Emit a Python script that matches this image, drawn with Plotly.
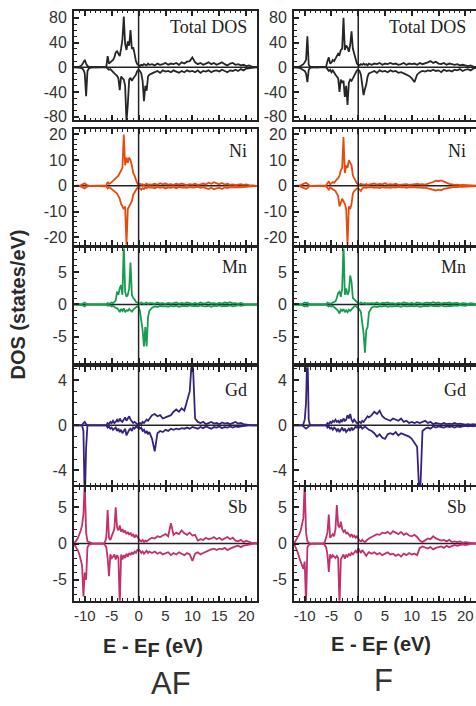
import plotly.graph_objects as go

# ---------------- data (energy grid in eV, DOS in states/eV) ----------------
E = [-12, -11.75, -11.5, -11.25, -11, -10.75, -10.5, -10.25,
     -10, -9.75, -9.5, -9.25, -9, -8.75, -8.5, -8.25,
     -8, -7.75, -7.5, -7.25, -7, -6.75, -6.5, -6.25,
     -6, -5.75, -5.5, -5.25, -5, -4.75, -4.5, -4.25,
     -4, -3.75, -3.5, -3.25, -3, -2.75, -2.5, -2.25,
     -2, -1.75, -1.5, -1.25, -1, -0.75, -0.5, -0.25,
     0, 0.25, 0.5, 0.75, 1, 1.25, 1.5, 1.75, 2,
     2.5, 3, 3.5, 4, 4.5, 5, 5.5, 6,
     6.5, 7, 7.5, 8, 8.5, 9, 9.5, 10,
     10.5, 11, 11.5, 12, 12.5, 13, 13.5, 14,
     14.5, 15, 15.5, 16, 16.5, 17, 17.5, 18,
     18.5, 19, 19.5, 20, 20.5, 21, 21.5, 22]

# ---- AF ----
tot_af_up = [0, 0, 0, 0.5, 1, 2, 4, 8,
             12, 6, 2, 1, 0.5, 0, 0, 0,
             0, 0, 0, 0, 0, 0, 0, 0,
             0.5, 18, 6, 8, 10, 12, 16, 24,
             26, 22, 18, 30, 45, 82, 38, 28,
             42, 35, 60, 30, 32, 22, 10, 5,
             3, 2, 4, 3, 5, 4, 3, 6, 4,
             5, 3, 6, 4, 5, 7, 4, 6,
             5, 7, 4, 8, 6, 9, 10, 16,
             8, 5, 7, 4, 6, 8, 5, 7,
             4, 6, 8, 5, 3, 6, 7, 4,
             5, 3, 4, 2, 3, 1, 0.5, 0]
tot_af_dn = [0, 0, 0, 0, -0.5, -1, -2, -4,
             -10, -47, -6, -2, -1, 0, 0, 0,
             0, 0, 0, 0, 0, 0, 0, 0,
             0, -2, -4, -3, -6, -8, -10, -12,
             -14, -18, -37, -15, -18, -20, -30, -88,
             -60, -20, -17, -22, -18, -15, -12, -6,
             -4, -6, -10, -22, -55, -30, -38, -15, -12,
             -10, -8, -6, -9, -5, -7, -6, -8,
             -5, -7, -9, -6, -8, -5, -7, -6,
             -8, -5, -9, -6, -7, -5, -8, -6,
             -5, -7, -4, -6, -8, -5, -6, -4,
             -6, -3, -5, -2, -1.5, -0.5, 0, 0]
ni_af_up = [0, 0, 0, 0, 0, 0.2, 0.5, 0.8,
            1, 0.5, 0.2, 0, 0, 0, 0, 0,
            0, 0, 0, 0, 0, 0, 0, 0,
            0.2, 1.5, 0.8, 1, 1.5, 1.8, 2.5, 3,
            3.5, 4, 5, 6, 7, 20, 8, 11,
            9, 11, 10, 8, 5, 4, 2.5, 1,
            0.5, 0.8, 0.4, 0.6, 0.3, 0.5, 0.8, 0.4, 0.6,
            0.5, 0.8, 0.4, 1, 0.6, 0.9, 0.5, 0.7,
            0.4, 0.8, 0.5, 0.9, 0.6, 0.3, 0.7, 0.5,
            0.8, 0.4, 0.6, 0.9, 0.5, 1.2, 0.8, 1.4,
            1, 0.6, 1.1, 0.5, 0.8, 0.4, 0.6, 0.3,
            0.5, 0.7, 0.4, 0.6, 0.3, 0.2, 0.1, 0]
ni_af_dn = [0, 0, 0, 0, 0, -0.2, -0.5, -0.8,
            -1, -0.5, -0.2, 0, 0, 0, 0, 0,
            0, 0, 0, 0, 0, 0, 0, 0,
            -0.2, -1, -0.5, -0.8, -1.2, -1.5, -2, -2.5,
            -3, -4, -5, -7, -8, -9, -8, -23,
            -9, -8, -7, -6, -3.5, -2.5, -1.5, -0.8,
            -0.5, -1, -1.5, -0.8, -1.2, -0.6, -0.9, -0.5, -0.7,
            -0.6, -0.9, -0.4, -0.8, -0.5, -1, -0.6, -0.8,
            -0.5, -0.9, -0.4, -0.7, -0.6, -0.8, -0.5, -0.7,
            -0.6, -0.4, -0.8, -0.5, -0.9, -1.2, -0.7, -1.3,
            -1, -0.7, -1.2, -0.6, -0.9, -0.5, -0.6, -0.4,
            -0.5, -0.6, -0.4, -0.5, -0.3, -0.2, -0.1, 0]
mn_af_up = [0, 0, 0, 0, 0, 0, 0.1, 0.2,
            0.3, 0.1, 0, 0, 0, 0, 0, 0,
            0, 0, 0, 0, 0, 0, 0, 0,
            0, 0.2, 0.1, 0.2, 0.3, 0.2, 0.4, 0.6,
            2, 1.5, 2.5, 3, 1.5, 9.5, 2, 1.2,
            1.5, 2.5, 6.5, 1.5, 1, 0.8, 0.4, 0.3,
            0.2, 0.1, 0.3, 0.2, 0.1, 0.2, 0.3, 0.1, 0.2,
            0.2, 0.1, 0.3, 0.15, 0.2, 0.1, 0.25, 0.15,
            0.2, 0.3, 0.1, 0.25, 0.15, 0.3, 0.2, 0.1,
            0.25, 0.1, 0.3, 0.15, 0.2, 0.35, 0.15, 0.2,
            0.1, 0.25, 0.15, 0.3, 0.2, 0.35, 0.15, 0.2,
            0.1, 0.25, 0.1, 0.05, 0.05, 0, 0, 0]
mn_af_dn = [0, 0, 0, 0, 0, 0, -0.1, -0.2,
            -0.3, -0.1, 0, 0, 0, 0, 0, 0,
            0, 0, 0, 0, 0, 0, 0, 0,
            0, -0.2, -0.1, -0.2, -0.3, -0.2, -0.4, -0.5,
            -0.6, -0.8, -1.2, -0.7, -1, -0.6, -1.2, -0.9,
            -1, -0.7, -0.9, -1.1, -0.8, -0.6, -0.4, -0.3,
            -0.4, -1, -2.5, -4, -6.5, -3.5, -6.5, -2, -1,
            -0.5, -0.3, -0.4, -0.2, -0.3, -0.25, -0.35, -0.2,
            -0.3, -0.2, -0.35, -0.25, -0.2, -0.3, -0.15, -0.25,
            -0.2, -0.3, -0.15, -0.25, -0.3, -0.2, -0.35, -0.2,
            -0.25, -0.15, -0.3, -0.2, -0.25, -0.15, -0.3, -0.2,
            -0.1, -0.2, -0.1, -0.05, -0.05, 0, 0, 0]
gd_af_up = [0, 0, 0, 0, 0, 0, 0, 0.2,
            0.3, 0.1, 0, 0, 0, 0, 0, 0,
            0, 0, 0, 0, 0, 0, 0, 0,
            0, 0.2, 0.1, 0.3, 0.2, 0.4, 0.2, 0.3,
            0.5, 0.3, 0.6, 0.4, 0.3, 0.5, 0.7, 0.4,
            0.6, 0.8, 0.5, 0.3, 0.2, 0.3, 0.2, 0.1,
            0.1, 0.2, 0.1, 0.3, 0.2, 0.4, 0.5, 0.4, 0.6,
            0.9, 1.0, 0.8, 0.9, 0.6, 0.7, 0.8, 0.9,
            1.2, 1.4, 1.2, 1.5, 1.3, 2.2, 3.0, 6.5,
            0.6, 0.3, 0.2, 0.3, 0.1, 0.2, 0.3, 0.15,
            0.2, 0.1, 0.25, 0.15, 0.2, 0.1, 0.2, 0.3,
            0.15, 0.2, 0.1, 0.05, 0, 0, 0, 0]
gd_af_dn = [0, 0, 0, 0, 0, 0, 0, -0.5,
            -7, -2, 0, 0, 0, 0, 0, 0,
            0, 0, 0, 0, 0, 0, 0, 0,
            0, -0.2, -0.1, -0.3, -0.2, -0.4, -0.3, -0.2,
            -0.5, -0.3, -0.6, -0.4, -0.7, -0.5, -0.3, -0.9,
            -0.6, -0.4, -0.3, -0.5, -0.2, -0.3, -0.1, -0.2,
            -0.1, -0.3, -0.2, -0.5, -0.4, -0.7, -0.5, -0.8, -0.6,
            -1.2, -2.3, -0.7, -0.5, -0.6, -0.4, -0.5, -0.3,
            -0.4, -0.3, -0.35, -0.25, -0.3, -0.2, -0.3, -0.15,
            -0.2, -0.3, -0.15, -0.25, -0.1, -0.2, -0.3, -0.15,
            -0.2, -0.1, -0.25, -0.15, -0.2, -0.1, -0.2, -0.1,
            -0.15, -0.1, -0.05, 0, 0, 0, 0, 0]
sb_af_up = [0, 0.2, 0.5, 0.8, 1.2, 1.8, 2.5, 4,
            8.5, 1.5, 0.3, 0.2, 0.1, 0, 0, 0,
            0, 0, 0, 0, 0, 0, 0, 0.2,
            0.8, 4.6, 0.8, 0.5, 1.2, 1.5, 2, 5,
            2.2, 1.8, 2.5, 1.6, 2, 1.5, 1.8, 1.3,
            1.6, 1.2, 1.5, 1, 1.3, 0.8, 1.2, 0.9,
            0.6, 0.4, 0.3, 0.5, 0.2, 0.4, 0.3, 0.5, 0.6,
            0.8, 0.7, 1.0, 0.9, 1.1, 1.3, 1.0, 2.8,
            1.2, 1.5, 1.3, 1.8, 1.4, 1.2, 1.5, 1.1,
            1.2, 0.4, 0.6, 0.5, 0.8, 0.6, 0.7, 0.9,
            0.6, 0.8, 0.5, 0.7, 0.9, 0.6, 0.8, 0.4,
            0.3, 0.5, 0.2, 0.4, 0.2, 0.1, 0.1, 0]
sb_af_dn = [0, -0.3, -0.6, -1.0, -1.5, -2.2, -3, -7.3,
            -4, -5, -0.5, -0.2, -0.1, 0, 0, 0,
            0, 0, 0, 0, 0, 0, 0, -0.2,
            -0.5, -2, -4.5, -1.5, -2, -1.8, -1.5, -2.2,
            -1.6, -2, -8.5, -1.5, -2.2, -1.6, -2, -1.4,
            -1.8, -1.3, -1.6, -1.2, -1.5, -1.1, -1.3, -0.9,
            -0.8, -1, -1.3, -1.1, -1.4, -1.2, -1, -1.3, -1.1,
            -1.3, -1.1, -1.4, -1.2, -1.5, -1.3, -1.2, -1.6,
            -1.3, -1.5, -1.2, -1.4, -1.6, -1.3, -1.5, -2.4,
            -1.4, -1.2, -1.5, -1.3, -1.1, -0.9, -0.8, -0.7,
            -0.9, -0.7, -0.8, -0.6, -0.9, -0.7, -0.5, -0.4,
            -0.3, -0.5, -0.3, -0.2, -0.1, -0.1, 0, 0]

# ---- F ----
tot_f_up = [0, 0, 0, 0.5, 1, 2, 3, 5,
            8, 12, 50, 4, 1, 0.5, 0, 0,
            0, 0, 0, 0, 0, 0, 0, 0,
            1, 10, 16, 6, 8, 12, 10, 14,
            18, 22, 20, 28, 30, 80, 28, 35,
            32, 25, 36, 58, 30, 22, 12, 6,
            4, 3, 5, 4, 6, 4, 5, 3, 6,
            4, 6, 5, 7, 4, 6, 5, 7,
            5, 6, 4, 5, 7, 4, 6, 5,
            6, 4, 7, 5, 6, 8, 10, 7,
            9, 6, 5, 7, 4, 6, 5, 4,
            5, 3, 4, 3, 2, 3, 1, 0.5]
tot_f_dn = [0, 0, 0, -0.5, -1, -2, -3, -4,
            -6, -10, -24, -4, -1, -0.5, 0, 0,
            0, 0, 0, 0, 0, 0, 0, 0,
            0, -3, -6, -4, -8, -5, -10, -12,
            -15, -18, -40, -20, -25, -22, -48, -30,
            -61, -25, -20, -22, -18, -14, -10, -5,
            -4, -6, -12, -30, -45, -35, -28, -15, -10,
            -8, -6, -9, -5, -7, -6, -8, -5,
            -7, -6, -9, -8, -10, -12, -14, -18,
            -24, -12, -8, -6, -7, -5, -6, -4,
            -6, -5, -8, -4, -6, -5, -7, -4,
            -5, -3, -6, -4, -3, -5, -2, -1]
ni_f_up = [0, 0, 0, 0, 0.2, 0.3, 0.5, 0.8,
           1, 1.2, 0.8, 0.3, 0, 0, 0, 0,
           0, 0, 0, 0, 0, 0, 0, 0,
           0.2, 1, 1.8, 0.6, 1, 1.5, 1.2, 2,
           2.5, 3, 4, 6, 7, 19, 5, 8,
           7, 10, 9, 8, 4, 3, 1.5, 1,
           0.6, 0.4, 0.8, 0.5, 0.6, 0.4, 0.7, 0.3, 0.5,
           0.6, 0.9, 0.5, 0.8, 0.6, 1, 0.5, 0.7,
           0.5, 0.8, 0.4, 0.6, 0.5, 0.7, 0.4, 0.6,
           0.5, 0.8, 0.6, 0.7, 0.5, 0.8, 1.0, 1.5,
           2, 1.8, 2.1, 1.6, 1.2, 0.8, 0.6, 0.4,
           0.5, 0.3, 0.4, 0.3, 0.2, 0.3, 0.2, 0.1]
ni_f_dn = [0, 0, 0, 0, -0.2, -0.3, -0.5, -0.8,
           -1, -1.2, -0.8, -0.3, 0, 0, 0, 0,
           0, 0, 0, 0, 0, 0, 0, 0,
           -0.2, -0.8, -1.5, -0.6, -1, -1.2, -1.5, -2,
           -3, -4, -8, -6, -5, -6, -7, -9,
           -23, -8, -9, -7, -3, -2, -1.5, -1,
           -1, -1.5, -2, -1, -0.8, -0.5, -0.8, -0.5, -0.6,
           -0.5, -0.8, -0.6, -0.9, -0.5, -0.7, -0.6, -0.8,
           -0.5, -0.7, -0.4, -0.6, -0.5, -0.8, -0.5, -0.6,
           -0.5, -0.7, -0.6, -0.8, -0.7, -1, -1.2, -1.5,
           -1.8, -1.5, -1.7, -1.2, -1, -0.7, -0.5, -0.4,
           -0.5, -0.3, -0.4, -0.3, -0.2, -0.3, -0.2, -0.1]
mn_f_up = [0, 0, 0, 0, 0, 0, 0.1, 0.2,
           0.3, 0.2, 0.3, 0.1, 0, 0, 0, 0,
           0, 0, 0, 0, 0, 0, 0, 0,
           0, 0.3, 0.2, 0.1, 0.2, 0.3, 0.4, 0.5,
           1, 1.8, 2, 1.2, 2.5, 9.5, 1.5, 2.5,
           1.5, 2, 4.5, 3.5, 1, 0.8, 0.5, 0.3,
           0.2, 0.1, 0.3, 0.2, 0.15, 0.25, 0.1, 0.2, 0.15,
           0.2, 0.15, 0.3, 0.1, 0.25, 0.2, 0.3, 0.15,
           0.2, 0.1, 0.25, 0.15, 0.3, 0.2, 0.15, 0.25,
           0.1, 0.3, 0.2, 0.15, 0.25, 0.3, 0.2, 0.35,
           0.2, 0.3, 0.15, 0.25, 0.2, 0.3, 0.15, 0.2,
           0.25, 0.1, 0.2, 0.15, 0.1, 0.2, 0.1, 0.05]
mn_f_dn = [0, 0, 0, 0, 0, 0, -0.1, -0.2,
           -0.3, -0.2, -0.3, -0.1, 0, 0, 0, 0,
           0, 0, 0, 0, 0, 0, 0, 0,
           0, -0.2, -0.3, -0.2, -0.3, -0.2, -0.4, -0.5,
           -0.7, -1, -1.4, -0.8, -1, -0.7, -1.2, -0.9,
           -1.2, -0.8, -1, -0.7, -0.5, -0.3, -0.2, -0.4,
           -0.5, -0.8, -1.2, -3, -4.5, -7.5, -4, -3.5, -1.2,
           -0.5, -0.3, -0.4, -0.25, -0.3, -0.2, -0.35, -0.25,
           -0.3, -0.2, -0.25, -0.35, -0.2, -0.3, -0.25, -0.2,
           -0.3, -0.2, -0.35, -0.25, -0.2, -0.3, -0.15, -0.25,
           -0.2, -0.3, -0.15, -0.25, -0.3, -0.2, -0.25, -0.15,
           -0.2, -0.1, -0.15, -0.2, -0.1, -0.15, -0.1, -0.05]
gd_f_up = [0, 0, 0, 0, 0, 0, 0, 0.1,
           0.5, 2, 7, 0.5, 0, 0, 0, 0,
           0, 0, 0, 0, 0, 0, 0, 0,
           0, 0.2, 0.1, 0.3, 0.2, 0.4, 0.3, 0.5,
           0.3, 0.4, 0.2, 0.5, 0.3, 0.6, 0.4, 0.5,
           0.9, 0.6, 1.0, 0.5, 0.3, 0.5, 0.3, 0.2,
           0.2, 0.3, 0.2, 0.4, 0.3, 0.5, 0.6, 0.8, 0.7,
           0.9, 1.2, 1.0, 1.3, 0.8, 0.6, 0.5, 0.4,
           0.6, 0.5, 0.4, 0.6, 0.3, 0.4, 0.2, 0.3,
           0.2, 0.3, 0.2, 0.3, 0.4, 0.2, 0.3, 0.1,
           0.2, 0.15, 0.1, 0.2, 0.1, 0.15, 0.1, 0.2,
           0.1, 0.15, 0.1, 0.05, 0.1, 0.05, 0.1, 0.05]
gd_f_dn = [0, 0, 0, 0, 0, 0, 0, -0.1,
           -0.2, -0.3, -0.2, -0.1, 0, 0, 0, 0,
           0, 0, 0, 0, 0, 0, 0, 0,
           0, -0.2, -0.1, -0.3, -0.2, -0.4, -0.2, -0.3,
           -0.5, -0.3, -0.6, -0.4, -0.2, -0.5, -0.3, -0.6,
           -0.4, -0.3, -0.5, -0.2, -0.4, -0.3, -0.1, -0.2,
           -0.1, -0.2, -0.1, -0.3, -0.2, -0.1, -0.2, -0.3, -0.4,
           -0.5, -0.7, -1.0, -0.8, -1.1, -1.2, -0.8, -0.7,
           -0.8, -0.6, -0.9, -0.7, -0.8, -0.9, -1.0, -1.2,
           -1.6, -1.9, -7.0, -0.5, -0.3, -0.2, -0.3, -0.1,
           -0.2, -0.1, -0.15, -0.2, -0.1, -0.15, -0.1, -0.2,
           -0.1, -0.15, -0.1, -0.05, -0.1, -0.05, -0.1, -0.05]
sb_f_up = [0, 0.3, 0.6, 1, 1.3, 1.8, 2.5, 3.5,
           8.5, 1.5, 0.3, 0.1, 0, 0, 0, 0,
           0, 0, 0, 0, 0, 0, 0, 0.2,
           0.8, 1.5, 4, 0.8, 1, 1.3, 1, 2,
           5.3, 2.5, 2.2, 3, 2, 1.6, 1.8, 1.4,
           1.5, 1.2, 1, 1.3, 0.9, 1.1, 0.8, 1,
           0.7, 0.4, 0.3, 0.5, 0.3, 0.2, 0.4, 0.6, 0.7,
           0.9, 1.1, 1.3, 1.2, 1.5, 1.4, 1.6, 1.3,
           1.7, 1.5, 1.3, 1.6, 1.2, 1.4, 1.1, 1.0,
           1.2, 0.9, 0.4, 0.2, 0.5, 0.7, 0.6, 1.0,
           0.7, 0.6, 0.4, 0.5, 0.3, 0.5, 0.2, 0.3,
           0.2, 0.3, 0.1, 0.2, 0.1, 0.1, 0.05, 0]
sb_f_dn = [0, -0.4, -0.8, -1.3, -2, -2.5, -3, -3.5,
           -2.5, -8.5, -0.5, -0.2, -0.1, 0, 0, 0,
           0, 0, 0, 0, 0, 0, 0, -0.2,
           -0.5, -1.5, -3.9, -1.5, -2, -1.6, -1.8, -2,
           -1.7, -2, -8.5, -2.2, -1.8, -1.5, -2.1, -1.6,
           -1.8, -1.4, -1.7, -1.3, -1.5, -1.2, -1, -1.3,
           -0.6, -1, -1.3, -0.9, -1.2, -1.5, -1.7, -1.4, -1.2,
           -1.4, -1.2, -1.5, -1.3, -1.6, -1.4, -1.2, -1.5,
           -1.4, -1.7, -1.5, -1.8, -1.4, -1.6, -1.3, -1.5,
           -1.4, -1.6, -0.6, -0.4, -0.5, -0.7, -0.5, -0.8,
           -0.6, -0.5, -0.4, -0.6, -0.3, -0.5, -0.3, -0.2,
           -0.3, -0.2, -0.1, -0.2, -0.1, -0.05, -0.05, 0]

panel_names = ["Total DOS", "Ni", "Mn", "Gd", "Sb"]
column_titles = ["AF", "F"]
x_tick_vals = [-10, -5, 0, 5, 10, 15, 20]
y_tick_vals = [[-80, -40, 0, 40, 80], [-20, -10, 0, 10, 20], [-5, 0, 5], [-4, 0, 4], [-5, 0, 5]]

curves = {
    0: [(tot_af_up, tot_af_dn), (ni_af_up, ni_af_dn), (mn_af_up, mn_af_dn),
        (gd_af_up, gd_af_dn), (sb_af_up, sb_af_dn)],
    1: [(tot_f_up, tot_f_dn), (ni_f_up, ni_f_dn), (mn_f_up, mn_f_dn),
        (gd_f_up, gd_f_dn), (sb_f_up, sb_f_dn)],
}
for col in curves.values():
    for up, dn in col:
        assert len(up) == len(E) and len(dn) == len(E)

# ---------------- styling / layout ----------------
W, H = 476, 706
colors = ["#262626", "#e84a0c", "#189c50", "#37237f", "#c2306e"]
y_ranges = [[-85.6, 91.2], [-22.9, 22.1], [-9.15, 8.7], [-5.3, 5.15], [-7.9, 7.73]]
y_minor = [10, 2, 1, 1, 1]
rows_px = [(8, 118.5), (127.5, 244.5), (248.3, 364.5), (368.3, 487.7), (490, 604.7)]
label_offset_px = [16, 22, 19, 23, 20]
cols_px = [(74, 257), (294, 476)]
frame = "#222222"
tickfont = dict(family="Liberation Sans, Arial, sans-serif", size=16, color="#333333")

fig = go.Figure()
layout = dict(width=W, height=H, margin=dict(l=0, r=0, t=0, b=0),
              paper_bgcolor="white", plot_bgcolor="white", showlegend=False)
shapes, annotations = [], []

for c in range(2):
    for r in range(5):
        k = c * 5 + r + 1
        xa = "x" if k == 1 else f"x{k}"
        ya = "y" if k == 1 else f"y{k}"
        xkey = "xaxis" if k == 1 else f"xaxis{k}"
        ykey = "yaxis" if k == 1 else f"yaxis{k}"
        x0, x1 = cols_px[c]
        top, bot = rows_px[r]
        up, dn = curves[c][r]
        for ys in (up, dn):
            fig.add_trace(go.Scatter(x=E, y=ys, xaxis=xa, yaxis=ya, mode="lines",
                                     line=dict(color=colors[r], width=1.8),
                                     hoverinfo="skip"))
        bottom_row = (r == 4)
        layout[xkey] = dict(
            domain=[x0 / W, x1 / W], range=[-12, 22], anchor=ya,
            showgrid=False, zeroline=False, showline=True, linecolor=frame, linewidth=2,
            mirror="ticks", ticks="inside", ticklen=5, tickwidth=1.5, tickcolor=frame,
            tickmode="array", tickvals=x_tick_vals, ticktext=[str(v) for v in x_tick_vals],
            showticklabels=bottom_row,
            tickfont=dict(family=tickfont["family"], size=15, color="#333333"),
            minor=dict(tickmode="linear", tick0=0, dtick=1, ticks="inside", ticklen=2.5,
                       tickwidth=1, tickcolor=frame),
        )
        layout[ykey] = dict(
            domain=[1 - bot / H, 1 - top / H], range=y_ranges[r], anchor=xa,
            showgrid=False, zeroline=False, showline=True, linecolor=frame, linewidth=2,
            mirror=(c == 0), ticks="inside", ticklen=5, tickwidth=1.5, tickcolor=frame,
            tickmode="array", tickvals=y_tick_vals[r], ticktext=[str(v) for v in y_tick_vals[r]],
            tickfont=tickfont, ticklabelstandoff=2,
            minor=dict(tickmode="linear", tick0=0, dtick=y_minor[r], ticks="inside",
                       ticklen=2.5, tickwidth=1, tickcolor=frame),
        )
        # zero line and Fermi level
        shapes.append(dict(type="line", xref=f"{xa} domain", yref=ya, x0=0, x1=1, y0=0, y1=0,
                           line=dict(color=frame, width=1.5), layer="below"))
        shapes.append(dict(type="line", xref=xa, yref=f"{ya} domain", x0=0, x1=0, y0=0, y1=1,
                           line=dict(color=frame, width=1.5), layer="above"))
        annotations.append(dict(text=panel_names[r], xref=f"{xa} domain", yref=f"{ya} domain",
                                x=0.955, y=1 - label_offset_px[r] / (bot - top),
                                xanchor="right", yanchor="middle", showarrow=False,
                                font=dict(family="Liberation Serif, Times New Roman, serif",
                                          size=18, color="#222222")))

# axis titles and column labels
annotations.append(dict(text="<b>DOS (states/eV)</b>", xref="paper", yref="paper",
                        x=18 / W, y=1 - 305 / H, textangle=-90, showarrow=False,
                        xanchor="center", yanchor="middle",
                        font=dict(family="Liberation Sans, Arial, sans-serif", size=20, color="#2a2a2a")))
for cx, cy in [(153, 652), (381, 650)]:
    annotations.append(dict(
        text="<b>E - E<sub><span style='font-size:20px'>F</span></sub> (eV)</b>",
        xref="paper", yref="paper", x=cx / W, y=1 - cy / H, showarrow=False,
        xanchor="center", yanchor="middle",
        font=dict(family="Liberation Sans, Arial, sans-serif", size=20, color="#2a2a2a")))
for txt, cx, cy in [(column_titles[0], 171, 688), (column_titles[1], 383, 685)]:
    annotations.append(dict(text=txt, xref="paper", yref="paper", x=cx / W, y=1 - cy / H,
                            showarrow=False, xanchor="center", yanchor="middle",
                            font=dict(family="Liberation Sans, Arial, sans-serif", size=31,
                                      color="#333333")))

layout["shapes"] = shapes
layout["annotations"] = annotations
fig.update_layout(**layout)
fig.write_html("out.html")
